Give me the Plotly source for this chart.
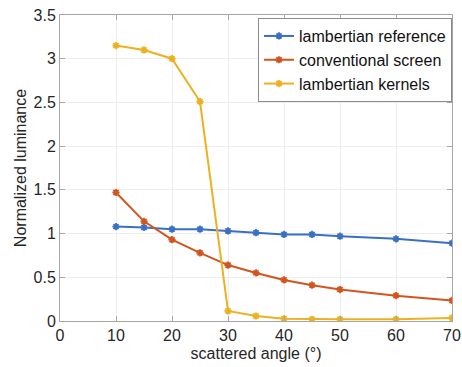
import plotly.graph_objects as go

angles = [10, 15, 20, 25, 30, 35, 40, 45, 50, 60, 70]
lambertian_reference = [1.08, 1.07, 1.05, 1.05, 1.03, 1.01, 0.99, 0.99, 0.97, 0.94, 0.89]
conventional_screen = [1.47, 1.14, 0.93, 0.78, 0.64, 0.55, 0.47, 0.41, 0.36, 0.29, 0.235]
lambertian_kernels = [3.15, 3.10, 3.00, 2.51, 0.115, 0.057, 0.027, 0.02, 0.02, 0.02, 0.035]

series_names = ["lambertian reference", "conventional screen", "lambertian kernels"]
series_values = [lambertian_reference, conventional_screen, lambertian_kernels]
colors = ["#3A6FC6", "#D2551E", "#EDB120"]

x_ticks = [0, 10, 20, 30, 40, 50, 60, 70]
y_ticks = [0, 0.5, 1, 1.5, 2, 2.5, 3, 3.5]
y_tick_labels = ["0", "0.5", "1", "1.5", "2", "2.5", "3", "3.5"]

fig = go.Figure()
for name, vals, c in zip(series_names, series_values, colors):
    fig.add_trace(go.Scatter(
        x=angles, y=vals, name=name, mode="lines+markers",
        line=dict(color=c, width=2),
        marker=dict(symbol="asterisk-open", size=6, color=c, line=dict(color=c, width=1.8)),
    ))

axis_common = dict(
    showline=True, linecolor="#a6a6a6", linewidth=1, mirror="ticks",
    ticks="inside", ticklen=5, tickcolor="#a6a6a6",
    showgrid=True, gridcolor="#ededed", gridwidth=1, zeroline=False,
    tickfont=dict(size=16, color="#262626"),
    automargin=False, ticklabeloverflow="allow",
)

fig.update_layout(
    width=462, height=367,
    margin=dict(l=60, r=10, t=15, b=46),
    paper_bgcolor="white", plot_bgcolor="white",
    font=dict(family="Liberation Sans, Arial, sans-serif", color="#262626"),
    xaxis=dict(range=[0, 70], tickvals=x_ticks, ticktext=[str(t) for t in x_ticks],
               title=dict(text="scattered angle (°)", font=dict(size=16), standoff=4), **axis_common),
    yaxis=dict(range=[0, 3.5], tickvals=y_ticks, ticktext=y_tick_labels,
               title=dict(text="Normalized luminance", font=dict(size=16), standoff=2), **axis_common),
    legend=dict(x=1.0, y=0.99, xanchor="right", yanchor="top",
                bgcolor="white", bordercolor="#8c8c8c", borderwidth=1,
                font=dict(size=16, color="#111111"), tracegroupgap=0,
                itemwidth=30),
    showlegend=True,
)

fig.write_html("out.html", config={"displayModeBar": False},
               post_script="document.body.style.margin='0px';document.body.style.overflow='hidden';")
